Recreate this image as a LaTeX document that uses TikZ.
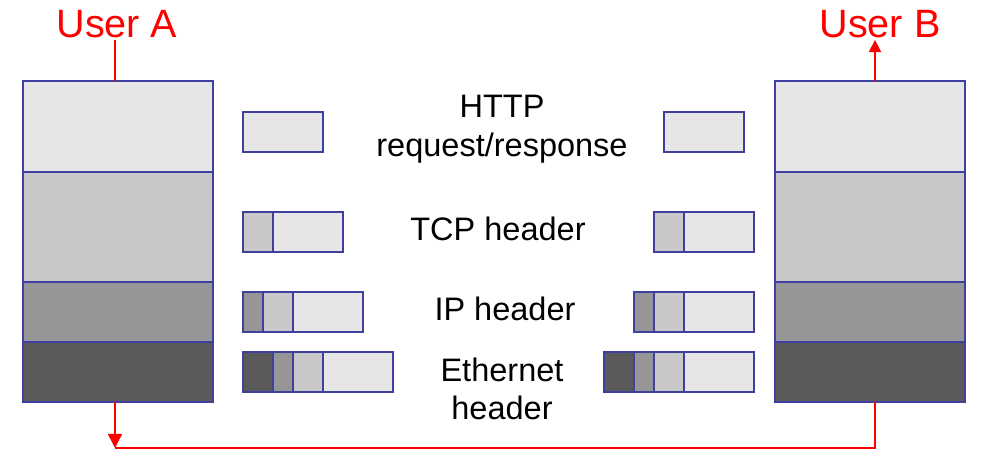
\documentclass[tikz,border=0pt]{standalone}
\usepackage{fontspec}
\setmainfont{Liberation Sans}
\usetikzlibrary{positioning, arrows.meta}
\definecolor{layerblue}{HTML}{3F3F9F}
\definecolor{userred}{HTML}{FF0000}
\definecolor{appgray}{HTML}{E6E6E6}
\definecolor{tcpgray}{HTML}{C8C8C8}
\definecolor{ipgray}{HTML}{969696}
\definecolor{ethgray}{HTML}{5A5A5A}

\begin{document}
\begin{tikzpicture}[x=0.02cm, y=-0.02cm]
\tikzstyle{layer} = [draw=layerblue, semithick]
\tikzstyle{user} = [text=userred, font=\fontsize{22.5}{24}\selectfont, inner sep=1pt]
\tikzstyle{hdr} = [align=center, font=\fontsize{18.5}{22}\selectfont]
\tikzstyle{link} = [userred, thick]
\useasboundingbox (0,0) rectangle (991,460);

% Protocol stacks
\foreach \x in {23, 775} {
    \filldraw[layer, fill=appgray] (\x,81) rectangle ++(190,91);
    \filldraw[layer, fill=tcpgray] (\x,172) rectangle ++(190,110);
    \filldraw[layer, fill=ipgray] (\x,282) rectangle ++(190,60);
    \filldraw[layer, fill=ethgray] (\x,342) rectangle ++(190,60);
}
\coordinate (stackA top) at (115,81);
\coordinate (stackA bot) at (115,402);
\coordinate (stackB top) at (875,81);
\coordinate (stackB bot) at (875,402);
\coordinate (corner) at (115,448);

% Users
\node (userA) [user] at (117,24) {User A};
\node (userB) [user] at (880,24) {User B};

% Left packets
\filldraw[layer, fill=appgray] (243,112) rectangle (323,152);
\filldraw[layer, fill=tcpgray] (243,212) rectangle (273,252);
\filldraw[layer, fill=appgray] (273,212) rectangle (343,252);
\filldraw[layer, fill=ipgray] (243,292) rectangle (263,332);
\filldraw[layer, fill=tcpgray] (263,292) rectangle (293,332);
\filldraw[layer, fill=appgray] (293,292) rectangle (363,332);
\filldraw[layer, fill=ethgray] (243,352) rectangle (273,392);
\filldraw[layer, fill=ipgray] (273,352) rectangle (293,392);
\filldraw[layer, fill=tcpgray] (293,352) rectangle (323,392);
\filldraw[layer, fill=appgray] (323,352) rectangle (393,392);

% Right packets
\filldraw[layer, fill=appgray] (664,112) rectangle (744,152);
\filldraw[layer, fill=tcpgray] (654,212) rectangle (684,252);
\filldraw[layer, fill=appgray] (684,212) rectangle (754,252);
\filldraw[layer, fill=ipgray] (634,292) rectangle (654,332);
\filldraw[layer, fill=tcpgray] (654,292) rectangle (684,332);
\filldraw[layer, fill=appgray] (684,292) rectangle (754,332);
\filldraw[layer, fill=ethgray] (604,352) rectangle (634,392);
\filldraw[layer, fill=ipgray] (634,352) rectangle (654,392);
\filldraw[layer, fill=tcpgray] (654,352) rectangle (684,392);
\filldraw[layer, fill=appgray] (684,352) rectangle (754,392);

% Header labels
\node (http) [hdr] at (502,129) {HTTP\\request/response};
\node (tcp) [hdr] at (498,229) {TCP header};
\node (ip) [hdr] at (505,309) {IP header};
\node (eth) [hdr] at (502,389) {Ethernet\\header};

% Path between users
\draw[link] (stackA top |- userA.south) -- (stackA top);
\draw[link, -{Triangle[length=8pt, width=8pt]}] (stackA bot) -- (corner);
\draw[link] (corner) -| (stackB bot);
\draw[link, -{Triangle[length=7pt, width=7pt]}] (stackB top) -- (stackB top |- userB.south);
\end{tikzpicture}
\end{document}
